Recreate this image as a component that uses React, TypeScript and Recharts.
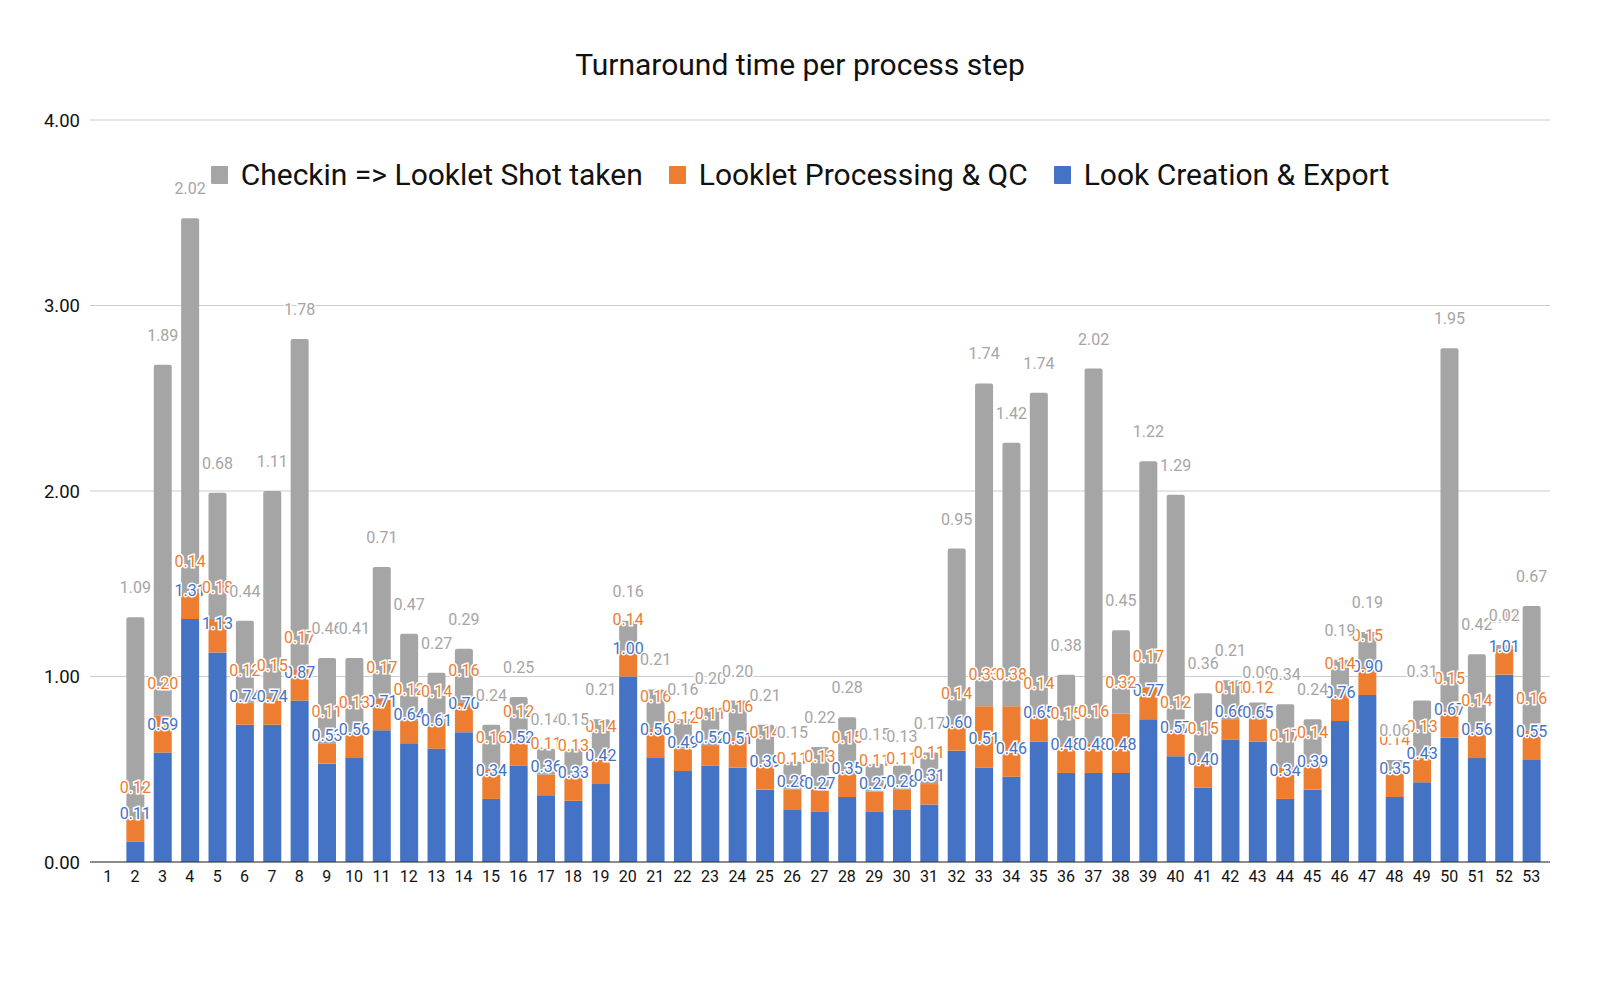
import React from 'react';
import { BarChart, Bar, XAxis, YAxis, CartesianGrid, Legend, LabelList } from 'recharts';

const steps = [
  '1', '2', '3', '4', '5', '6', '7', '8', '9', '10',
  '11', '12', '13', '14', '15', '16', '17', '18', '19', '20',
  '21', '22', '23', '24', '25', '26', '27', '28', '29', '30',
  '31', '32', '33', '34', '35', '36', '37', '38', '39', '40',
  '41', '42', '43', '44', '45', '46', '47', '48', '49', '50',
  '51', '52', '53',
];

// Look Creation & Export (bottom segment)
const lookCreation = [
  null, 0.11, 0.59, 1.31, 1.13, 0.74, 0.74, 0.87, 0.53, 0.56,
  0.71, 0.64, 0.61, 0.70, 0.34, 0.52, 0.36, 0.33, 0.42, 1.00,
  0.56, 0.49, 0.52, 0.51, 0.39, 0.28, 0.27, 0.35, 0.27, 0.28,
  0.31, 0.60, 0.51, 0.46, 0.65, 0.48, 0.48, 0.48, 0.77, 0.57,
  0.40, 0.66, 0.65, 0.34, 0.39, 0.76, 0.90, 0.35, 0.43, 0.67,
  0.56, 1.01, 0.55,
];

// Looklet Processing & QC (middle segment)
const lookletProcessing = [
  null, 0.12, 0.20, 0.14, 0.18, 0.12, 0.15, 0.17, 0.11, 0.13,
  0.17, 0.12, 0.14, 0.16, 0.16, 0.12, 0.11, 0.13, 0.14, 0.14,
  0.16, 0.12, 0.11, 0.16, 0.14, 0.11, 0.13, 0.15, 0.11, 0.11,
  0.11, 0.14, 0.33, 0.38, 0.14, 0.15, 0.16, 0.32, 0.17, 0.12,
  0.15, 0.11, 0.12, 0.17, 0.14, 0.14, 0.15, 0.14, 0.13, 0.15,
  0.14, 0.14, 0.16,
];

// Checkin => Looklet Shot taken (top segment)
const checkinToShot = [
  null, 1.09, 1.89, 2.02, 0.68, 0.44, 1.11, 1.78, 0.46, 0.41,
  0.71, 0.47, 0.27, 0.29, 0.24, 0.25, 0.14, 0.15, 0.21, 0.16,
  0.21, 0.16, 0.20, 0.20, 0.21, 0.15, 0.22, 0.28, 0.15, 0.13,
  0.17, 0.95, 1.74, 1.42, 1.74, 0.38, 2.02, 0.45, 1.22, 1.29,
  0.36, 0.21, 0.09, 0.34, 0.24, 0.19, 0.19, 0.06, 0.31, 1.95,
  0.42, 0.02, 0.67,
];

const yTicks = [0, 1, 2, 3, 4];

const GRAY = '#a5a5a5';
const ORANGE = '#ed7d31';
const BLUE = '#4472c4';
const FONT = 'Roboto, "Noto Sans", sans-serif';

const data = steps.map((name, i) => ({
  name,
  creation: lookCreation[i],
  processing: lookletProcessing[i],
  checkin: checkinToShot[i],
}));

const legendItems = [
  { label: 'Checkin => Looklet Shot taken', color: GRAY },
  { label: 'Looklet Processing & QC', color: ORANGE },
  { label: 'Look Creation & Export', color: BLUE },
];

const fmt = (v: any) => (v == null ? '' : Number(v).toFixed(2));

const renderLegend = () => (
  <div
    style={{
      display: 'flex',
      justifyContent: 'center',
      alignItems: 'center',
      fontFamily: FONT,
      fontSize: 30,
      color: '#111',
      lineHeight: '36px',
    }}
  >
    {legendItems.map((item) => (
      <div key={item.label} style={{ display: 'flex', alignItems: 'center', margin: '0 13px' }}>
        <span
          style={{
            display: 'inline-block',
            width: 17,
            height: 18,
            background: item.color,
            marginRight: 13,
            borderRadius: 1,
          }}
        />
        <span>{item.label}</span>
      </div>
    ))}
  </div>
);

const labelStyle = {
  fontFamily: FONT,
  fontSize: 16,
  stroke: '#fff',
  strokeWidth: 3,
  paintOrder: 'stroke',
} as any;

export default function App() {
  return (
    <div style={{ position: 'absolute', left: 0, top: 0, width: 1600, height: 990, background: '#fff' }}>
      <div
        style={{
          position: 'absolute',
          top: 45,
          left: 0,
          width: 1600,
          textAlign: 'center',
          fontFamily: FONT,
          fontSize: 30,
          color: '#111',
          lineHeight: '40px',
        }}
      >
        Turnaround time per process step
      </div>
      <BarChart
        width={1600}
        height={990}
        data={data}
        margin={{ top: 120, right: 50, left: 10, bottom: 98 }}
        barSize={18}
      >
        <CartesianGrid vertical={false} stroke="#cccccc" />
        <XAxis
          dataKey="name"
          interval={0}
          height={30}
          padding={{ left: 4, right: 5 }}
          tickLine={false}
          tickMargin={3}
          axisLine={{ stroke: '#333' }}
          tick={{ fontFamily: FONT, fontSize: 16, fill: '#111' }}
        />
        <YAxis
          domain={[0, 4]}
          ticks={yTicks}
          width={80}
          axisLine={false}
          tickLine={false}
          tickMargin={4}
          tickFormatter={(v: number) => v.toFixed(2)}
          tick={{ fontFamily: FONT, fontSize: 18.5, fill: '#111' }}
        />
        <Legend
          verticalAlign="middle"
          align="center"
          content={renderLegend}
          wrapperStyle={{ top: 157, left: 0, width: 1600 }}
        />
        <Bar dataKey="creation" stackId="a" fill={BLUE} isAnimationActive={false} name="Look Creation & Export">
          <LabelList dataKey="creation" position="top" offset={23} formatter={fmt} fill={BLUE} {...labelStyle} />
        </Bar>
        <Bar dataKey="processing" stackId="a" fill={ORANGE} isAnimationActive={false} name="Looklet Processing & QC">
          <LabelList dataKey="processing" position="top" offset={26} formatter={fmt} fill={ORANGE} {...labelStyle} />
        </Bar>
        <Bar
          dataKey="checkin"
          stackId="a"
          fill={GRAY}
          radius={[2, 2, 0, 0]}
          isAnimationActive={false}
          name="Checkin => Looklet Shot taken"
        >
          <LabelList dataKey="checkin" position="top" offset={24} formatter={fmt} fill={GRAY} {...labelStyle} />
        </Bar>
      </BarChart>
    </div>
  );
}
